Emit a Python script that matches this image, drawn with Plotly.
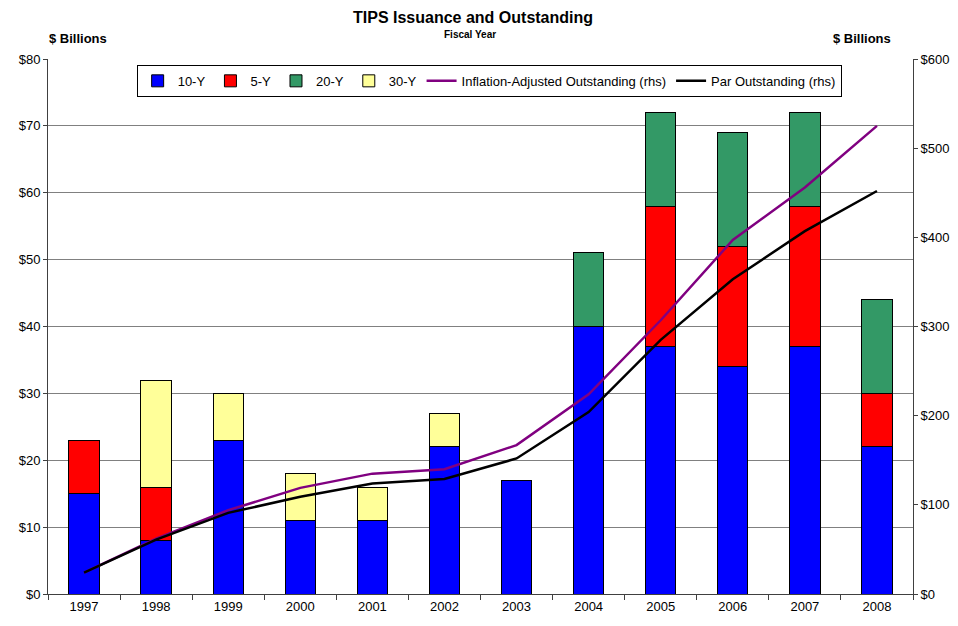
import plotly.graph_objects as go

years = ["1997","1998","1999","2000","2001","2002","2003","2004","2005","2006","2007","2008"]
y10 = [15, 8, 23, 11, 11, 22, 17, 40, 37, 34, 37, 22]
y5 = [8, 8, 0, 0, 0, 0, 0, 0, 21, 18, 21, 8]
y20 = [0, 0, 0, 0, 0, 0, 0, 11, 14, 17, 14, 14]
y30 = [0, 16, 7, 7, 5, 5, 0, 0, 0, 0, 0, 0]
infl_adj = [24, 62, 94, 119, 135, 140, 167, 224, 307, 397, 456, 525]
par_out = [24, 61, 91, 109, 124, 129, 152, 204, 285, 353, 407, 452]

font = "Liberation Sans, Arial, sans-serif"
fig = go.Figure()
for name, vals, col in [("10-Y", y10, "#0000FF"), ("5-Y", y5, "#FF0000"),
                        ("20-Y", y20, "#339966"), ("30-Y", y30, "#FFFF99")]:
    fig.add_trace(go.Bar(x=years, y=vals, name=name, marker_color=col,
                         marker_line=dict(color="black", width=1), width=0.42))
fig.add_trace(go.Scatter(x=years, y=infl_adj, name="Inflation-Adjusted Outstanding (rhs)",
                         mode="lines", line=dict(color="#800080", width=2.5), yaxis="y2"))
fig.add_trace(go.Scatter(x=years, y=par_out, name="Par Outstanding (rhs)",
                         mode="lines", line=dict(color="black", width=2.5), yaxis="y2"))

# page body has an 8px default margin; size the figure so the page needs no scrollbars
W, H = 942, 610
OX, OY = 8, 8
PL, PR, PT, PB = 48, 913, 59, 594  # plot area in window pixels

fig.update_layout(
    width=W, height=H, barmode="stack", bargap=0.58,
    paper_bgcolor="white", plot_bgcolor="white",
    margin=dict(l=PL - OX, r=W + OX - PR, t=PT - OY, b=H + OY - PB, autoexpand=False),
    font=dict(family=font, size=13, color="black"),
    xaxis=dict(type="category", tickson="boundaries", ticks="outside", ticklen=5,
               tickcolor="#404040", showline=True, linecolor="#404040", linewidth=1,
               showgrid=False, tickfont=dict(size=13), automargin=False),
    yaxis=dict(range=[0, 80], dtick=10, tickprefix="$", ticks="outside", ticklen=4,
               tickcolor="#404040", showline=True, linecolor="#404040", linewidth=1,
               showgrid=True, gridcolor="#808080", gridwidth=1, zeroline=False,
               tickfont=dict(size=13), automargin=False),
    yaxis2=dict(range=[0, 600], dtick=100, tickprefix="$", overlaying="y", side="right",
                ticks="outside", ticklen=4, tickcolor="#404040", showline=True,
                linecolor="#404040", linewidth=1, showgrid=False, zeroline=False,
                tickfont=dict(size=13), automargin=False),
    legend=dict(orientation="h", x=0.51, xanchor="center", y=0.989, yanchor="top",
                bordercolor="black", borderwidth=1, bgcolor="white",
                traceorder="normal", font=dict(size=13), itemwidth=30,
                tracegroupgap=0),
    showlegend=True,
)

def px(x):
    return (x - PL) / (PR - PL)

def py(y):
    return (PB - y) / (PB - PT)

fig.add_annotation(text="<b>TIPS Issuance and Outstanding</b>", xref="paper", yref="paper",
                   x=px(473), y=py(18), showarrow=False,
                   font=dict(size=16), xanchor="center", yanchor="middle")
fig.add_annotation(text="<b>Fiscal Year</b>", xref="paper", yref="paper",
                   x=px(470), y=py(34), showarrow=False,
                   font=dict(size=10), xanchor="center", yanchor="middle")
fig.add_annotation(text="<b>$ Billions</b>", xref="paper", yref="paper",
                   x=px(47), y=py(39), showarrow=False,
                   font=dict(size=13), xanchor="left", yanchor="middle")
fig.add_annotation(text="<b>$ Billions</b>", xref="paper", yref="paper",
                   x=px(893), y=py(39), showarrow=False,
                   font=dict(size=13), xanchor="right", yanchor="middle")

fig.write_html("out.html")
